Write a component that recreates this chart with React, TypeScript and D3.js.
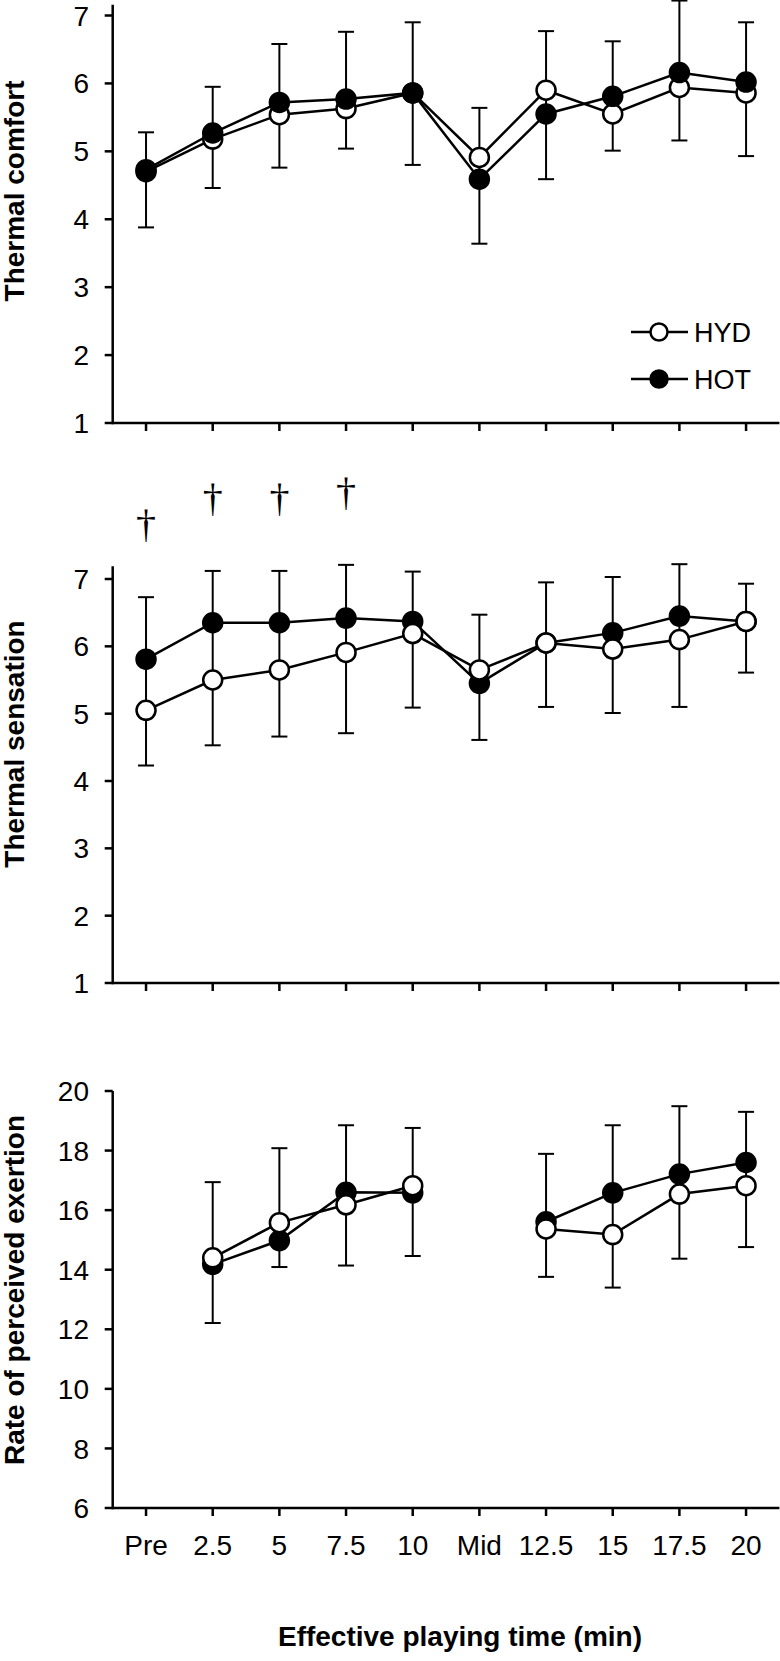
import React from "react";
import * as d3 from "d3";

const categories = ["Pre", "2.5", "5", "7.5", "10", "Mid", "12.5", "15", "17.5", "20"];

// Panel 1: Thermal comfort
const comfortHYD = [4.7, 5.18, 5.54, 5.63, 5.86, 4.91, 5.9, 5.55, 5.94, 5.86];
const comfortHOT = [4.73, 5.27, 5.72, 5.77, 5.86, 4.59, 5.55, 5.81, 6.16, 6.02];
const comfortErrTop = [5.28, 5.95, 6.58, 6.76, 6.9, 5.64, 6.77, 6.62, 7.22, 6.9];
const comfortErrBottom = [3.88, 4.46, 4.76, 5.04, 4.8, 3.64, 4.59, 5.01, 5.16, 4.93];
const comfortTicks = [1, 2, 3, 4, 5, 6, 7];

// Panel 2: Thermal sensation
const sensationHYD = [5.05, 5.5, 5.65, 5.91, 6.19, 5.65, 6.05, 5.96, 6.1, 6.37];
const sensationHOT = [5.81, 6.35, 6.35, 6.42, 6.37, 5.45, 6.05, 6.2, 6.45, 6.37];
const sensationErrTop = [6.73, 7.12, 7.12, 7.21, 7.11, 6.47, 6.95, 7.03, 7.22, 6.93];
const sensationErrBottom = [4.23, 4.53, 4.66, 4.71, 5.09, 4.61, 5.1, 5.01, 5.1, 5.61];
const sensationSig = ["†", "†", "†", "†", "", "", "", "", "", ""];
const sensationTicks = [1, 2, 3, 4, 5, 6, 7];

// Panel 3: Rate of perceived exertion
const rpeHYD = [null, 14.4, 15.58, 16.18, 16.82, null, 15.37, 15.18, 16.54, 16.82];
const rpeHOT = [null, 14.18, 14.98, 16.6, 16.58, null, 15.61, 16.58, 17.21, 17.6];
const rpeErrTop = [null, 16.94, 18.08, 18.85, 18.76, null, 17.89, 18.85, 19.49, 19.3];
const rpeErrBottom = [null, 12.21, 14.09, 14.14, 14.46, null, 13.76, 13.4, 14.37, 14.76];
const rpeTicks = [6, 8, 10, 12, 14, 16, 18, 20];

const seriesNames = ["HYD", "HOT"];
const xTitle = "Effective playing time (min)";

const FONT = "Arial, 'Liberation Sans', Helvetica, sans-serif";
const AXIS_X = 112.7;
const AXIS_RIGHT = 779.4;

const x = d3.scaleBand<string>().domain(categories).range([AXIS_X, AXIS_RIGHT]).padding(0);
const cx = (c: string) => (x(c) as number) + x.bandwidth() / 2;

type Panel = {
  title: string;
  titleY: number;
  domain: [number, number];
  range: [number, number];
  axisTopValue: number;
  ticks: number[];
  hyd: (number | null)[];
  hot: (number | null)[];
  errTop: (number | null)[];
  errBottom: (number | null)[];
  hotOnTop: boolean;
  sig?: string[];
  showXLabels: boolean;
  legend?: boolean;
};

const panels: Panel[] = [
  {
    title: "Thermal comfort",
    titleY: 191,
    domain: [1, 7],
    range: [423, 15.5],
    axisTopValue: 7.16,
    ticks: comfortTicks,
    hyd: comfortHYD,
    hot: comfortHOT,
    errTop: comfortErrTop,
    errBottom: comfortErrBottom,
    hotOnTop: true,
    showXLabels: false,
    legend: true,
  },
  {
    title: "Thermal sensation",
    titleY: 744,
    domain: [1, 7],
    range: [983, 579],
    axisTopValue: 7.19,
    ticks: sensationTicks,
    hyd: sensationHYD,
    hot: sensationHOT,
    errTop: sensationErrTop,
    errBottom: sensationErrBottom,
    hotOnTop: false,
    sig: sensationSig,
    showXLabels: false,
  },
  {
    title: "Rate of perceived exertion",
    titleY: 1290,
    domain: [6, 20],
    range: [1508, 1091],
    axisTopValue: 20,
    ticks: rpeTicks,
    hyd: rpeHYD,
    hot: rpeHOT,
    errTop: rpeErrTop,
    errBottom: rpeErrBottom,
    hotOnTop: false,
    showXLabels: true,
  },
];

function PanelView({ p }: { p: Panel }) {
  const y = d3.scaleLinear().domain(p.domain).range(p.range);
  const y0 = p.range[0];
  const line = d3
    .line<number | null>()
    .defined((d) => d !== null)
    .x((_, i) => cx(categories[i]))
    .y((d) => y(d as number));

  const series = [
    { name: seriesNames[0], values: p.hyd, fill: "#fff" },
    { name: seriesNames[1], values: p.hot, fill: "#000" },
  ];
  const ordered = p.hotOnTop ? series : [series[1], series[0]];

  return (
    <g>
      {/* y axis */}
      <line x1={AXIS_X} x2={AXIS_X} y1={y(p.axisTopValue)} y2={y0 + 1.25} stroke="#000" strokeWidth={2.5} />
      {p.ticks.map((t) => (
        <g key={t}>
          <line x1={AXIS_X - 8} x2={AXIS_X} y1={y(t)} y2={y(t)} stroke="#000" strokeWidth={2.5} />
          <text x={89} y={y(t)} dy="0.36em" textAnchor="end" fontSize={28} fontFamily={FONT}>
            {t}
          </text>
        </g>
      ))}
      {/* x axis */}
      <line x1={AXIS_X} x2={AXIS_RIGHT} y1={y0} y2={y0} stroke="#000" strokeWidth={2.5} />
      {categories.map((c) => (
        <g key={c}>
          <line x1={cx(c)} x2={cx(c)} y1={y0} y2={y0 + 8} stroke="#000" strokeWidth={2.5} />
          {p.showXLabels && (
            <text x={cx(c)} y={y0 + 47} textAnchor="middle" fontSize={28} fontFamily={FONT}>
              {c}
            </text>
          )}
        </g>
      ))}
      {/* y title */}
      <text
        transform={`translate(24,${p.titleY}) rotate(-90)`}
        textAnchor="middle"
        fontSize={28}
        fontWeight="bold"
        fontFamily={FONT}
      >
        {p.title}
      </text>
      {/* error bars */}
      {categories.map((c, i) => {
        const top = p.errTop[i];
        const bot = p.errBottom[i];
        if (top === null || bot === null) return null;
        const X = cx(c);
        return (
          <g key={"e" + c} stroke="#000" strokeWidth={2}>
            <line x1={X} x2={X} y1={y(top)} y2={y(bot)} />
            <line x1={X - 8} x2={X + 8} y1={y(top)} y2={y(top)} />
            <line x1={X - 8} x2={X + 8} y1={y(bot)} y2={y(bot)} />
          </g>
        );
      })}
      {/* significance */}
      {p.sig &&
        categories.map((c, i) =>
          p.sig![i] ? (
            <text
              key={"s" + c}
              x={cx(c)}
              y={y(p.errTop[i] as number) - 60}
              textAnchor="middle"
              fontSize={40}
              fontFamily="'Liberation Serif', 'Times New Roman', serif"
            >
              {p.sig![i]}
            </text>
          ) : null
        )}
      {/* lines and markers */}
      {ordered.map((s) => (
        <g key={s.name}>
          <path d={line(s.values) || ""} fill="none" stroke="#000" strokeWidth={2.5} />
          {s.values.map((v, i) =>
            v === null ? null : (
              <circle key={i} cx={cx(categories[i])} cy={y(v)} r={9.5} fill={s.fill} stroke="#000" strokeWidth={2.5} />
            )
          )}
        </g>
      ))}
      {p.legend && (
        <g>
          {series.map((s, k) => {
            const ly = 332 + k * 47;
            return (
              <g key={s.name}>
                <line x1={631} x2={688} y1={ly} y2={ly} stroke="#000" strokeWidth={2.5} />
                <circle cx={659} cy={ly} r={8.5} fill={s.fill} stroke="#000" strokeWidth={2.5} />
                <text x={694} y={ly} dy="0.36em" fontSize={27} fontFamily={FONT}>
                  {s.name}
                </text>
              </g>
            );
          })}
        </g>
      )}
    </g>
  );
}

export default function App() {
  return (
    <div style={{ position: "absolute", left: 0, top: 0 }}>
      <svg width={780} height={1661} viewBox="0 0 780 1661" style={{ display: "block", background: "#fff" }}>
        <rect x={0} y={0} width={780} height={1661} fill="#fff" />
        {panels.map((p) => (
          <PanelView key={p.title} p={p} />
        ))}
        <text x={460} y={1646} textAnchor="middle" fontSize={28} fontWeight="bold" fontFamily={FONT}>
          {xTitle}
        </text>
      </svg>
    </div>
  );
}
